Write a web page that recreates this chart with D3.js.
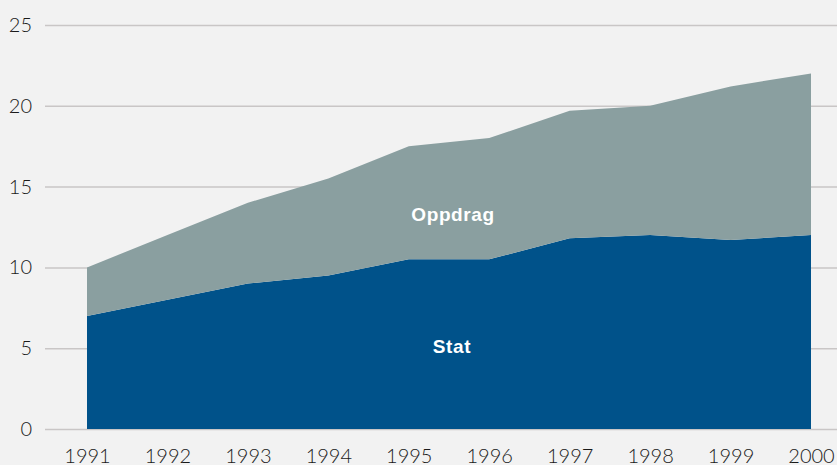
<!DOCTYPE html>
<html>
<head>
<meta charset="utf-8">
<script src="https://cdn.jsdelivr.net/npm/d3@7"></script>
<style>
  body { margin: 0; background: #f2f2f2; }
  svg { display: block; }
  .tick text { font-family: Lato, "Liberation Sans", Arial, sans-serif; font-weight: 300; font-size: 20px; fill: #1a1a1a; }
  .lbl { font-family: "Liberation Sans", Arial, sans-serif; font-weight: 700; font-size: 19px; letter-spacing: 0.6px; fill: #fff; }
</style>
</head>
<body>
<div id="chart"></div>
<script>
// years on the x axis
var years = [1991, 1992, 1993, 1994, 1995, 1996, 1997, 1998, 1999, 2000];
// stacked series (bottom first)
var stat    = [7, 8, 9, 9.5, 10.5, 10.5, 11.8, 12, 11.7, 12];
var oppdrag = [3, 4, 5, 6, 7, 7.5, 7.9, 8, 9.5, 10];
var seriesNames = ["Stat", "Oppdrag"];
var yTicks = [0, 5, 10, 15, 20, 25];

var width = 837, height = 465;
var colors = { "Stat": "#00528a", "Oppdrag": "#8a9fa0" };

var svg = d3.select("#chart").append("svg")
    .attr("width", width)
    .attr("height", height);

svg.append("rect").attr("width", width).attr("height", height).attr("fill", "#f2f2f2");

var x = d3.scaleLinear().domain([1991, 2000]).range([87, 811]);
var y = d3.scaleLinear().domain([0, 25]).range([429, 25]);

// gridlines + y labels
var yAxis = svg.append("g")
    .attr("transform", "translate(45,0)")
    .call(d3.axisLeft(y).tickValues(yTicks).tickSize(0).tickPadding(13)
        .tickFormat(d3.format("d")));
yAxis.select(".domain").remove();
yAxis.selectAll(".tick line")
    .attr("x2", width - 45)
    .attr("stroke", "#c9c6c6")
    .attr("stroke-width", 1.5);

// stacked data
var table = years.map(function (yr, i) {
    return { year: yr, Stat: stat[i], Oppdrag: oppdrag[i] };
});
var stacked = d3.stack().keys(seriesNames)(table);

var area = d3.area()
    .x(function (d) { return x(d.data.year); })
    .y0(function (d) { return y(d[0]); })
    .y1(function (d) { return y(d[1]); });

svg.append("g").selectAll("path")
    .data(stacked)
    .enter()
    .append("path")
    .attr("d", area)
    .attr("fill", function (d) { return colors[d.key]; });

// x labels
var xAxis = svg.append("g")
    .attr("transform", "translate(0,429)")
    .call(d3.axisBottom(x).tickValues(years).tickSize(0).tickPadding(20)
        .tickFormat(d3.format("d")));
xAxis.select(".domain").remove();

// series labels
svg.append("text").attr("class", "lbl")
    .attr("x", 453).attr("y", y(13.2))
    .attr("text-anchor", "middle").attr("dominant-baseline", "middle")
    .text("Oppdrag");
svg.append("text").attr("class", "lbl")
    .attr("x", 452).attr("y", y(5))
    .attr("text-anchor", "middle").attr("dominant-baseline", "middle")
    .text("Stat");
</script>
</body>
</html>
